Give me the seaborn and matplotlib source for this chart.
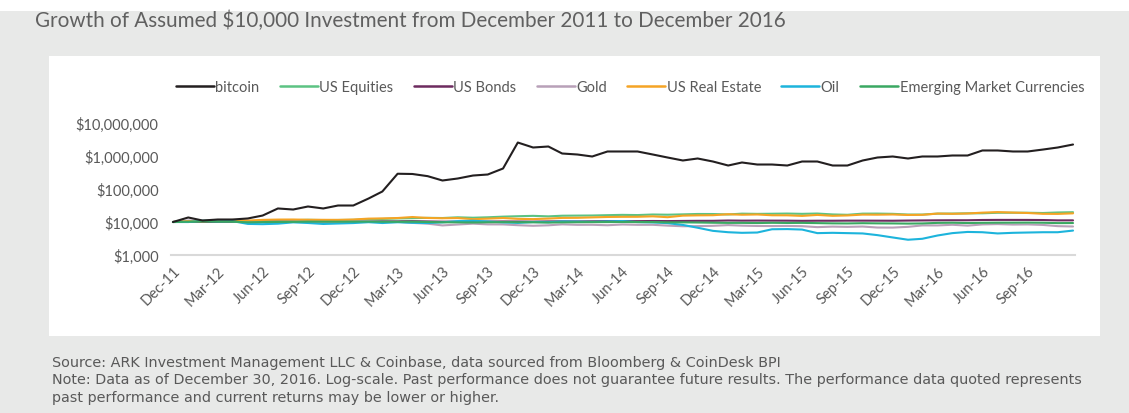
import numpy as np
import pandas as pd
import matplotlib
matplotlib.use("Agg")
import matplotlib.pyplot as plt
import matplotlib.ticker as mticker
import seaborn as sns

# ---------------- data (monthly, Dec-2011 .. Dec-2016, value of $10,000) ----------------
months = pd.date_range("2011-12-31", periods=61, freq="ME")

bitcoin = [10000, 13700, 11100, 11900, 11900, 12800, 15700, 25700, 23900, 29500, 25700, 31600,
           31600, 51500, 84000, 290000, 285000, 245000, 181000, 208000, 256000, 275000, 418000, 2560000,
           1810000, 1940000, 1190000, 1110000, 966000, 1370000, 1370000, 1370000, 1110000, 900000, 731000, 840000,
           681000, 515000, 636000, 552000, 552000, 515000, 681000, 681000, 515000, 515000, 731000, 900000,
           966000, 840000, 966000, 966000, 1036000, 1036000, 1470000, 1470000, 1370000, 1370000, 1570000, 1810000,
           2230000]
us_equities = [10000, 10450, 10900, 11260, 11190, 10520, 10950, 11100, 11350, 11650, 11430, 11500, 11600,
               12200, 12370, 12830, 13080, 13380, 13200, 13870, 13470, 13890, 14530, 14970, 15350,
               14820, 15500, 15630, 15740, 16110, 16440, 16220, 16870, 16630, 17040, 17500, 17450,
               16930, 17900, 17620, 17790, 18020, 17670, 18040, 16950, 16530, 17920, 17970, 17690,
               16810, 16790, 17930, 18000, 18320, 18370, 19050, 19080, 19080, 18730, 19420, 19800]
us_bonds = [10000, 10090, 10090, 10040, 10150, 10250, 10260, 10410, 10420, 10440, 10460, 10480, 10470,
            10430, 10480, 10490, 10590, 10400, 10240, 10250, 10200, 10300, 10380, 10340, 10260,
            10410, 10460, 10420, 10510, 10630, 10640, 10610, 10730, 10660, 10770, 10850, 10860,
            11100, 10990, 11040, 11000, 10970, 10850, 10930, 10920, 10990, 10990, 10960, 10920,
            11060, 11150, 11250, 11300, 11300, 11510, 11580, 11570, 11560, 11470, 11200, 11220]
gold = [10000, 11110, 10830, 10610, 10630, 9970, 10210, 10360, 10520, 11320, 10980, 10950, 10630,
        10630, 10080, 10200, 9400, 8900, 7880, 8390, 8910, 8470, 8450, 8000, 7680,
        7940, 8470, 8200, 8230, 7980, 8400, 8210, 8220, 7770, 7430, 7500, 7660,
        8050, 7750, 7580, 7540, 7600, 7480, 6990, 7250, 7120, 7290, 6800, 6770,
        7140, 7880, 7870, 8240, 7760, 8440, 8630, 8360, 8440, 8150, 7490, 7320]
us_real_estate = [10000, 10600, 10500, 11000, 11550, 11050, 11600, 11850, 11900, 11700, 11650, 11600, 11900,
                  12650, 12850, 13200, 14150, 13250, 13000, 13150, 12200, 12650, 13200, 12450, 12250,
                  12700, 13300, 13400, 13800, 14200, 14350, 14400, 14850, 13990, 15600, 15900, 16050,
                  17200, 16600, 16900, 16000, 15950, 15300, 16400, 15400, 15800, 16750, 16650, 16900,
                  16350, 16500, 18000, 17700, 18100, 19200, 19950, 19300, 18750, 17700, 17600, 18300]
oil = [10000, 9970, 10830, 10420, 10610, 8750, 8600, 8900, 9760, 9330, 8720, 9000, 9290,
       9870, 9310, 9830, 9460, 9310, 9770, 10620, 10900, 10350, 9750, 9380, 9960,
       9870, 10380, 10280, 10090, 10390, 10670, 9940, 9710, 9230, 8150, 6700, 5390,
       4900, 4700, 4800, 6030, 6100, 5900, 4600, 4700, 4600, 4500, 4000, 3400,
       2900, 3100, 3900, 4600, 5000, 4900, 4500, 4700, 4800, 4900, 4900, 5500]
em_currencies = [10000, 10200, 10350, 10250, 10200, 9800, 9950, 10050, 10100, 10250, 10200, 10200, 10250,
                 10300, 10200, 10150, 10200, 10000, 9800, 9750, 9650, 9800, 9900, 9850, 9800,
                 9600, 9750, 9850, 9900, 9950, 10000, 9950, 9950, 9750, 9750, 9650, 9500,
                 9400, 9400, 9300, 9450, 9350, 9400, 9250, 9100, 9050, 9200, 9100, 9050,
                 8950, 9050, 9400, 9500, 9300, 9450, 9550, 9550, 9600, 9500, 9250, 9300]

series_names = ["bitcoin", "US Equities", "US Bonds", "Gold", "US Real Estate", "Oil",
                "Emerging Market Currencies"]
series_values = [bitcoin, us_equities, us_bonds, gold, us_real_estate, oil, em_currencies]
series_colors = ["#231f20", "#5cc383", "#6d2b5f", "#b8a0b8", "#f5a425", "#1db4dc", "#3aa862"]

y_ticks = [1e3, 1e4, 1e5, 1e6, 1e7]
y_tick_labels = ["$1,000", "$10,000", "$100,000", "$1,000,000", "$10,000,000"]
x_tick_dates = pd.date_range("2011-12-31", "2016-09-30", freq="QE-DEC")
x_tick_labels = [d.strftime("%b-%y") for d in x_tick_dates]

title = "Growth of Assumed $10,000 Investment from December 2011 to December 2016"
note_lines = [
    "Source: ARK Investment Management LLC & Coinbase, data sourced from Bloomberg & CoinDesk BPI",
    "Note: Data as of December 30, 2016. Log-scale. Past performance does not guarantee future results. The performance data quoted represents",
    "past performance and current returns may be lower or higher.",
]

# ---------------- build long-form frame ----------------
frames = []
for name, vals in zip(series_names, series_values):
    frames.append(pd.DataFrame({"date": months, "value": vals, "series": name}))
df = pd.concat(frames, ignore_index=True)

sns.set_theme(style="white")
plt.rcParams["font.family"] = ["Lato", "DejaVu Sans"]

W, H = 1129, 414
fig = plt.figure(figsize=(W / 100, H / 100), dpi=100)
fig.patch.set_facecolor("#e8e9e8")

# white strip at top and white panel
fig.add_artist(plt.Rectangle((0, 1 - 12 / H), 1, 12 / H, transform=fig.transFigure,
                             facecolor="white", edgecolor="none", zorder=0))
fig.add_artist(plt.Rectangle((49 / W, 1 - 337 / H), (1100 - 49) / W, (337 - 57) / H,
                             transform=fig.transFigure, facecolor="white", edgecolor="none", zorder=0))

ax = fig.add_axes([171 / W, 1 - 256 / H, (1075 - 171) / W, (256 - 124) / H])
ax.set_facecolor("none")

palette = dict(zip(series_names, series_colors))
draw_order = series_names[1:] + series_names[:1]
for name in draw_order:
    sub = df[df["series"] == name]
    sns.lineplot(data=sub, x="date", y="value", color=palette[name], linewidth=1.5,
                 ax=ax, legend=False, zorder=3 if name == "bitcoin" else 2)

ax.set_yscale("log")
ax.set_ylim(1e3, 1e7)
ax.set_xlim(months[0] - pd.Timedelta(days=4), months[-1] + pd.Timedelta(days=4))
ax.set_yticks(y_ticks)
ax.set_yticklabels(y_tick_labels)
ax.yaxis.set_minor_locator(mticker.NullLocator())
ax.set_xticks(x_tick_dates)
ax.set_xticklabels(x_tick_labels, rotation=45, ha="right", rotation_mode="anchor")
ax.set_xlabel("")
ax.set_ylabel("")
for s in ["top", "right", "left"]:
    ax.spines[s].set_visible(False)
ax.spines["bottom"].set_color("#d9d9d9")
ax.spines["bottom"].set_linewidth(1.5)
ax.tick_params(axis="both", length=0, colors="#595959", labelsize=10.5)
ax.tick_params(axis="y", pad=9)
ax.tick_params(axis="x", pad=6)

# legend
handles = [plt.Line2D([], [], color=palette[n], linewidth=1.8) for n in series_names]
fig.legend(handles, series_names, loc="center", bbox_to_anchor=(630 / W, 1 - 88 / H), ncol=7,
           frameon=False, fontsize=10.5, handlelength=2.6, handletextpad=0.1, columnspacing=1.4,
           labelcolor="#595959")

fig.text(35 / W, 1 - 21 / H, title, fontsize=14.9, color="#606060", va="center", ha="left")
for i, line in enumerate(note_lines):
    fig.text(52 / W, 1 - (363 + 17.5 * i) / H, line, fontsize=10.4, color="#595959", va="center",
             ha="left", family=["DejaVu Sans"])

fig.savefig("out.png", dpi=100, facecolor=fig.get_facecolor())
